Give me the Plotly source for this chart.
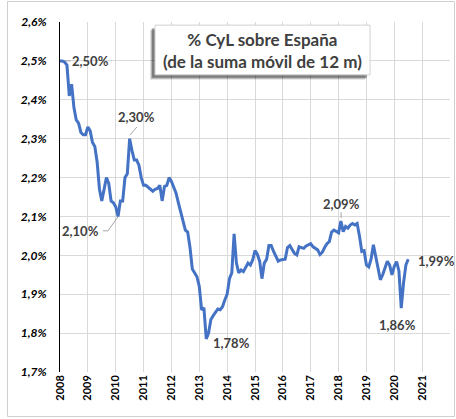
import plotly.graph_objects as go

# Monthly values (%), January 2008 .. July 2020
start_year = 2008
values = [
    2.50, 2.50, 2.497, 2.489, 2.41, 2.44, 2.38, 2.348, 2.34, 2.316, 2.31, 2.31,   # 2008
    2.33, 2.32, 2.29, 2.28, 2.24, 2.17, 2.14, 2.168, 2.20, 2.185, 2.14, 2.135,    # 2009
    2.125, 2.10, 2.14, 2.14, 2.20, 2.21, 2.30, 2.27, 2.245, 2.245, 2.232, 2.20,   # 2010
    2.18, 2.18, 2.175, 2.168, 2.165, 2.17, 2.172, 2.18, 2.14, 2.177, 2.18, 2.20,  # 2011
    2.19, 2.175, 2.16, 2.135, 2.11, 2.09, 2.065, 2.06, 2.02, 1.965, 1.953, 1.945, # 2012
    1.92, 1.86, 1.865, 1.785, 1.80, 1.835, 1.845, 1.855, 1.862, 1.86, 1.868, 1.885, # 2013
    1.90, 1.94, 1.955, 2.055, 1.98, 1.955, 1.962, 1.958, 1.97, 1.98, 1.975, 1.988,  # 2014
    2.012, 2.003, 1.985, 1.94, 1.98, 1.99, 2.025, 2.025, 2.01, 1.995, 1.985, 1.988, # 2015
    1.99, 1.99, 2.02, 2.025, 2.015, 2.005, 2.001, 2.022, 2.02, 2.018, 2.024, 2.028, # 2016
    2.03, 2.022, 2.018, 2.014, 2.002, 2.008, 2.02, 2.03, 2.035, 2.06, 2.065, 2.062, # 2017
    2.058, 2.088, 2.061, 2.074, 2.07, 2.078, 2.082, 2.078, 2.082, 2.05, 2.01, 2.012, # 2018
    1.975, 1.97, 1.99, 2.027, 1.998, 1.962, 1.937, 1.95, 1.968, 1.985, 1.975, 1.95, # 2019
    1.972, 1.984, 1.96, 1.864, 1.93, 1.975, 1.99,                                   # 2020
]
dates = [start_year + i / 12 for i in range(len(values))]

year_ticks = list(range(2008, 2022))
y_ticks = [1.7, 1.8, 1.9, 2.0, 2.1, 2.2, 2.3, 2.4, 2.5, 2.6]
y_tick_labels = ["1,7%", "1,8%", "1,9%", "2,0%", "2,1%", "2,2%", "2,3%", "2,4%", "2,5%", "2,6%"]

title_lines = ["% CyL sobre España", "(de la suma móvil de 12 m)"]

# data labels: text, x, y
labels = [
    ("2,50%", 2009.11, 2.500),
    ("2,30%", 2010.76, 2.356),
    ("2,10%", 2008.72, 2.063),
    ("1,78%", 2014.14, 1.775),
    ("2,09%", 2018.09, 2.132),
    ("1,99%", 2021.53, 1.985),
    ("1,86%", 2020.10, 1.821),
]
# leader lines (x list, y list)
leaders = [
    ([2008.07, 2008.39], [2.500, 2.500]),
    ([2010.51, 2010.76], [2.309, 2.330]),
    ([2009.54, 2009.72, 2010.08], [2.063, 2.063, 2.099]),
    ([2018.09, 2018.09], [2.111, 2.096]),
]

fig = go.Figure()

for lx, ly in leaders:
    fig.add_trace(go.Scatter(x=lx, y=ly, mode="lines",
                             line=dict(color="#a6a6a6", width=1),
                             hoverinfo="skip", showlegend=False))

fig.add_trace(go.Scatter(x=dates, y=values, mode="lines",
                         line=dict(color="#4472C4", width=3),
                         showlegend=False))

for txt, lx, ly in labels:
    fig.add_annotation(x=lx, y=ly, text=txt, showarrow=False,
                       xanchor="center", yanchor="middle",
                       font=dict(family="Lato", size=13, color="#404040", weight="bold"))

# title box with shadow
shapes = []
for off, alpha in [(5, 0.12), (4, 0.2), (3, 0.3)]:
    dx = off / 390
    dy = off / 350
    shapes.append(dict(type="rect", xref="paper", yref="paper",
                       x0=0.2436 - dx, x1=0.795 - dx, y0=0.849 - dy, y1=0.991 - dy,
                       line=dict(width=0), fillcolor=f"rgba(0,0,0,{alpha})", layer="above"))
shapes.append(dict(type="rect", xref="paper", yref="paper",
                   x0=0.2436, x1=0.795, y0=0.849, y1=0.991,
                   line=dict(color="#d0d0d0", width=1), fillcolor="white", layer="above"))
# outer chart border
shapes.append(dict(type="rect", xref="paper", yref="paper",
                   x0=-52.5 / 390, x1=394.5 / 390, y0=-44.5 / 350, y1=370.5 / 350,
                   line=dict(color="#cfcfcf", width=1), fillcolor="rgba(0,0,0,0)", layer="below"))
fig.update_layout(shapes=shapes)

fig.add_annotation(xref="paper", yref="paper", x=0.5205, y=0.918,
                   xanchor="center", yanchor="middle",
                   text="<br>".join(title_lines), showarrow=False,
                   font=dict(family="Lato", size=17, color="#404040", weight="bold"),
                   align="center")

fig.update_layout(
    width=456, height=419,
    margin=dict(l=60, r=6, t=22, b=47),
    paper_bgcolor="white", plot_bgcolor="white",
    xaxis=dict(range=[2008, 2022], tickvals=year_ticks, ticktext=[str(y) for y in year_ticks],
               tickangle=-90, showgrid=True, gridcolor="#d9d9d9", gridwidth=1,
               showline=False, zeroline=False, ticks="",
               tickfont=dict(family="Lato", size=11, color="black", weight="bold")),
    yaxis=dict(range=[1.7, 2.6], tickvals=y_ticks, ticktext=y_tick_labels,
               showgrid=True, gridcolor="#d9d9d9", gridwidth=1,
               showline=True, linecolor="black", linewidth=1, zeroline=False, ticks="",
               ticklabelstandoff=10,
               tickfont=dict(family="Lato", size=12, color="black", weight="bold", style="italic")),
)

fig.write_html("out.html", config={"displayModeBar": False},
               post_script="document.body.style.margin='0';")
